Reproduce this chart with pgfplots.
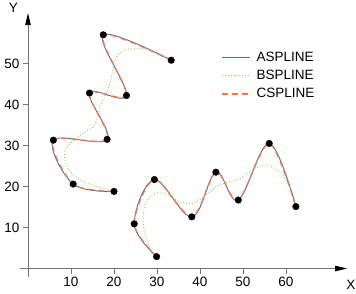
\documentclass[border=0pt]{standalone}
\usepackage{pgfplots}
\pgfplotsset{compat=1.18}
\usepackage{fontspec}
\setmainfont{Liberation Sans}
\usetikzlibrary{arrows.meta}
\definecolor{cA}{RGB}{58,112,192}
\definecolor{cB}{RGB}{140,205,90}
\definecolor{cC}{RGB}{255,115,60}
\begin{document}
\begin{tikzpicture}
\begin{axis}[
  x=4.3pt, y=4.1pt,
  xmin=-1.9, xmax=74.2, ymin=-2, ymax=62.3,
  axis lines=middle,
  clip=false,
  x axis line style={draw=black!55, line width=0.8pt, -{Triangle[length=12pt,width=5.5pt,black]}},
  y axis line style={draw=black!55, line width=0.8pt, -{Triangle[length=12pt,width=5.5pt,black]}},
  xtick={10,20,30,40,50,60}, ytick={10,20,30,40,50},
  tick align=outside, major tick length=5pt,
  tick style={draw=black!55, line width=0.8pt},
  /pgf/number format/assume math mode=true,
  ticklabel style={font=\fontsize{13.5}{15}\selectfont},
  xlabel={X}, ylabel={Y},
  xlabel style={at={(axis description cs:1.012,-0.031)}, anchor=center, font=\fontsize{13.5}{15}\selectfont},
  ylabel style={at={(axis description cs:-0.0198,1.02)}, anchor=center, font=\fontsize{13.5}{15}\selectfont},
  legend style={draw=none, fill=none, at={(axis cs:44.2,53.9)}, anchor=north west,
    font=\fontsize{13.5}{15}\selectfont, row sep=3.5pt},
  legend cell align=left,
  legend image code/.code={\draw[#1] (0pt,0pt) -- (28pt,0pt); \path (32pt,0pt);},
]
% ASPLINE
\addplot[color=cA, line width=0.9pt, smooth, tension=0.6] coordinates {
(20,18.8) (10.5,20.6) (5.9,31.3) (18.4,31.5) (14.3,42.8) (22.9,42.2) (17.5,57) (33.3,50.8)};
\addlegendentry{ASPLINE}
% BSPLINE
\addplot[color=cB, line width=0.9pt, dotted, smooth] coordinates {
(20,18.8) (16.7,19.7) (12.9,21.2) (9.8,23.6) (8.6,26.5) (8.7,29.0) (10.2,30.9) (12.9,33.0) (15.2,34.6) (16.3,37.0) (16.6,39.3) (17.9,42.0) (19.2,45.8) (20.0,49.8) (20.8,52.0) (22.3,53.2) (24.5,53.6) (27.5,53.5) (30.0,52.6) (31.9,51.6) (33.3,50.8)};
\addlegendentry{BSPLINE}
% CSPLINE
\addplot[color=cC, line width=1.3pt, dash pattern=on 6pt off 4pt, smooth, tension=0.5] coordinates {
(20,18.8) (10.5,20.6) (5.9,31.3) (18.4,31.5) (14.3,42.8) (22.9,42.2) (17.5,57) (33.3,50.8)};
\addlegendentry{CSPLINE}
% second group
\addplot[color=cA, line width=0.9pt, smooth, tension=0.6, forget plot] coordinates {
(29.9,2.9) (24.7,10.9) (29.4,21.7) (38.1,12.6) (43.7,23.5) (48.9,16.7) (56.1,30.5) (62.3,15.1)};
\addplot[color=cB, line width=0.9pt, dotted, smooth, forget plot] coordinates {
(29.9,2.9) (29.1,3.7) (28.0,6.1) (27.0,9.4) (26.8,12.6) (27.2,15.5) (28.4,17.5) (30.3,18.5) (32.2,18.2) (33.8,17.1) (35.3,16.3) (37.3,15.9) (38.8,16.0) (40.4,17.1) (42.3,18.7) (43.9,20.1) (45.4,20.7) (47.0,21.2) (49.0,21.8) (51.6,23.6) (53.5,24.8) (55.1,25.2) (57.0,24.6) (59.0,23.2) (60.5,20.8) (61.7,17.9) (62.3,15.1)};
\addplot[color=cC, line width=1.3pt, dash pattern=on 6pt off 4pt, smooth, tension=0.5, forget plot] coordinates {
(29.9,2.9) (24.7,10.9) (29.4,21.7) (38.1,12.6) (43.7,23.5) (48.9,16.7) (56.1,30.5) (62.3,15.1)};
% points
\addplot[only marks, mark=*, mark size=3.3pt, black, forget plot] coordinates {
(20,18.8) (10.5,20.6) (5.9,31.3) (18.4,31.5) (14.3,42.8) (22.9,42.2) (17.5,57) (33.3,50.8)
(29.9,2.9) (24.7,10.9) (29.4,21.7) (38.1,12.6) (43.7,23.5) (48.9,16.7) (56.1,30.5) (62.3,15.1)};
\coordinate (bl) at (axis cs:-6.51,-5.98);
\coordinate (tr) at (axis cs:76.28,65.49);
\end{axis}
\pgfresetboundingbox
\useasboundingbox (bl) rectangle (tr);
\end{tikzpicture}
\end{document}
